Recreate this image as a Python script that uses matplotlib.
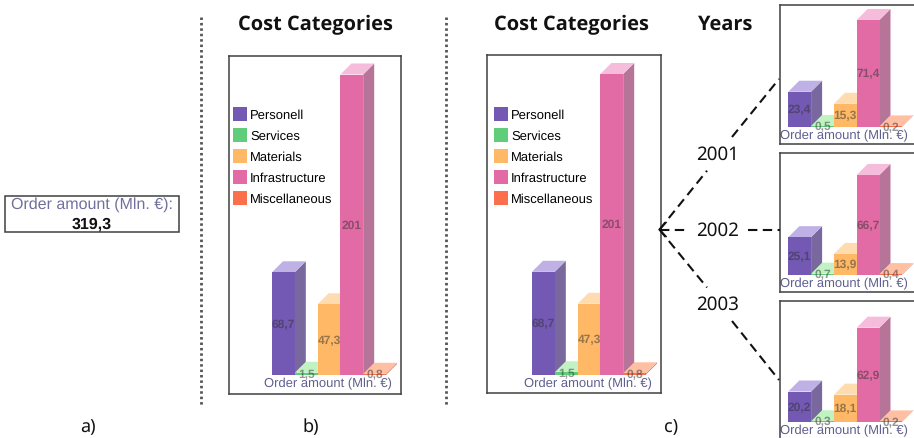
import matplotlib
matplotlib.use("Agg")
import matplotlib.pyplot as plt
from matplotlib.patches import Polygon, Rectangle

plt.rcParams["text.hinting"] = "no_hinting"
plt.rcParams["text.hinting_factor"] = 1

W, H = 914, 439

categories = ["Personell", "Services", "Materials", "Infrastructure", "Miscellaneous"]
total_label = "Order amount (Mln. €):"
total_value = "319,3"
axis_label = "Order amount (Mln. €)"

all_values = [68.7, 1.5, 47.3, 201, 0.8]
all_labels = ["68,7", "1,5", "47,3", "201", "0,8"]
values_2001 = [23.4, 0.5, 15.3, 71.4, 0.2]
labels_2001 = ["23,4", "0,5", "15,3", "71,4", "0,2"]
values_2002 = [25.1, 0.7, 13.9, 66.7, 0.4]
labels_2002 = ["25,1", "0,7", "13,9", "66,7", "0,4"]
values_2003 = [20.2, 0.3, 18.1, 62.9, 0.2]
labels_2003 = ["20,2", "0,3", "18,1", "62,9", "0,2"]
years = ["2001", "2002", "2003"]

front = ["#7359b3", "#5fcd7a", "#ffb966", "#e36ba5", "#fb6f4d"]
side = ["#78689e", "#6fa583", "#c9a27a", "#b67598", "#c47a66"]
top = ["#bfb0e6", "#c0f2c2", "#ffdcb0", "#f6bcdc", "#ffbfa2"]

SANS = "Liberation Sans"
HEAD = "Open Sans"
HAND = "Noto Sans"
PURPLE = "#5f5f8f"

SLOT = 22.8      # px per category
PX_PER_UNIT = 1.495
DEPTH_X = 11.0   # px
DEPTH_Y = 11.0   # px

fig = plt.figure(figsize=(W / 100, H / 100), dpi=100, facecolor="white")


def chart(left, top_px, right, bottom, bar_x0, baseline, values, labels, legend_at=None):
    ax = fig.add_axes([left / W, 1 - bottom / H, (right - left) / W, (bottom - top_px) / H])
    ax.set_xlim((left - bar_x0) / SLOT - 0.5, (right - bar_x0) / SLOT - 0.5)
    ax.set_ylim((baseline - bottom) / PX_PER_UNIT, (baseline - top_px) / PX_PER_UNIT)
    ax.set_xticks([])
    ax.set_yticks([])
    for s in ax.spines.values():
        s.set_color("#404040")
        s.set_linewidth(1.1)
        s.set_zorder(50)
    dx = DEPTH_X / SLOT
    dy = DEPTH_Y / PX_PER_UNIT
    handles = []
    for i, v in enumerate(values):
        z = 2 + i
        ax.add_patch(Polygon([(i + .5, 0), (i + .5 + dx, dy), (i + .5 + dx, v + dy), (i + .5, v)],
                             facecolor=side[i], edgecolor="none", zorder=z))
        ax.add_patch(Polygon([(i - .5, v), (i - .5 + dx, v + dy), (i + .5 + dx, v + dy), (i + .5, v)],
                             facecolor=top[i], edgecolor="none", zorder=z))
        b = ax.bar(i, v, width=1.0, color=front[i], zorder=z)
        handles.append(b[0])
    for i, (v, t) in enumerate(zip(values, labels)):
        ax.text(i, v / 2, t, ha="center", va="center", fontsize=8.3, fontweight="bold",
                family=SANS, color="#303030", alpha=0.5, zorder=20)
    ax.text(1.96, -8.0 / PX_PER_UNIT, axis_label, ha="center", va="center", fontsize=9.0,
            family=SANS, color=PURPLE, zorder=21)
    if legend_at:
        ax.legend(handles, categories, loc="upper left", frameon=False,
                  bbox_to_anchor=((legend_at[0] - left) / (right - left),
                                  1 - (legend_at[1] - top_px) / (bottom - top_px)),
                  borderaxespad=0, borderpad=0, handlelength=1.12, handleheight=1.35,
                  handletextpad=0.24, labelspacing=0.54,
                  prop={"family": SANS, "size": 9.1})
    return ax


chart(229, 57, 401, 395, 272, 376, all_values, all_labels, legend_at=(233, 108))
chart(487, 56, 661, 394, 532, 375.5, all_values, all_labels, legend_at=(494, 108))
chart(779.5, 5.5, 935, 145, 788.3, 127.7, values_2001, labels_2001)
chart(779.5, 154, 935, 292.7, 788.3, 275.7, values_2002, labels_2002)
chart(779.5, 302, 935, 445, 788.3, 422.7, values_2003, labels_2003)

ov = fig.add_axes([0, 0, 1, 1], zorder=100)
ov.set_xlim(0, W)
ov.set_ylim(H, 0)
ov.axis("off")

# total box
ov.add_patch(Rectangle((5, 197), 174, 36, facecolor="none", edgecolor="#404040", linewidth=1.1))
ov.text(92, 204.5, total_label, ha="center", va="center", fontsize=11.4, family=SANS, color="#70709c")
ov.text(92, 224.5, total_value, ha="center", va="center", fontsize=11.2, family=SANS,
        fontweight="bold", color="#111111")

# separators
for x in (201, 446):
    ov.plot([x, x], [18, 408], color="#555555", lw=2.0, ls=(0, (0.9, 1.05)), solid_capstyle="butt")

# titles
for x, t in [(315, "Cost Categories"), (571, "Cost Categories"), (725, "Years")]:
    ov.text(x, 25, t, ha="center", va="center", fontsize=14.1, fontweight="bold", family=HEAD, color="#111111")

# year connectors
origin = (659.5, 230.6)
segments = [[origin, (707, 171.7)], [(732, 138), (779, 80)],
            [origin, (686, 230.6)], [(748, 230.6), (780, 230.6)],
            [origin, (707, 288.5)], [(732, 322), (779, 381)]]
for (a, b) in segments:
    ov.plot([a[0], b[0]], [a[1], b[1]], color="#111111", lw=1.5, ls=(0, (4.5, 2.6)))
for p in [(666, 223.5), (666, 237.5)]:
    ov.plot([origin[0], p[0]], [origin[1], p[1]], color="#111111", lw=1.2)

for y, t in zip([155, 231, 305], years):
    ov.text(718, y, t, ha="center", va="center", fontsize=13.5, family=HAND, color="#111111")

for x, t in [(88, "a)"), (311, "b)"), (671, "c)")]:
    ov.text(x, 427, t, ha="center", va="center", fontsize=13, family=HAND, color="#111111")

fig.savefig("out.png", dpi=100)
